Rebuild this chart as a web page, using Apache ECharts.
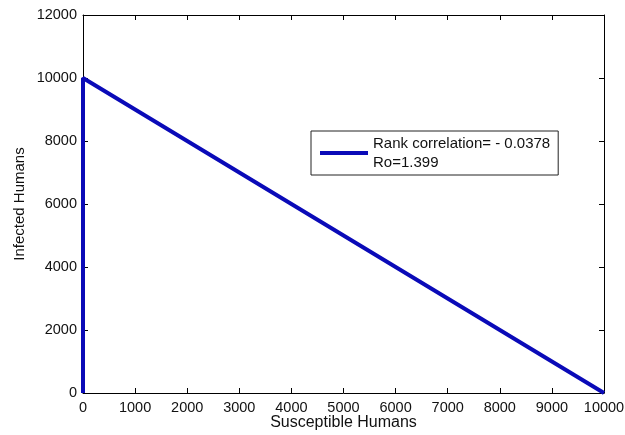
<html>
<head>
    <meta charset="utf-8">
    <title>Infected vs Susceptible Humans</title>
    <script src="https://cdn.jsdelivr.net/npm/echarts@6/dist/echarts.min.js"></script>
</head>
<body style="margin:0;background:#fff">
    <div id="main" style="width:625px;height:435px"></div>
    <script type="text/javascript">
        // S (x) vs I (y) trajectory points
        var susceptible = [0, 0, 10000];
        var infected = [0, 10000, 0];
        var legendText = 'Rank correlation= - 0.0378\nRo=1.399';

        var pts = [];
        for (var i = 0; i < susceptible.length; i++) {
            pts.push([susceptible[i], infected[i]]);
        }

        var font = 'Liberation Sans, Arial, sans-serif';
        var plain = function (v) { return String(v); };  // no thousands separator
        var axisCommon = {
            type: 'value',
            axisLine: {show: true, onZero: false, lineStyle: {color: '#000', width: 1}},
            axisTick: {show: true, inside: true, length: 5, lineStyle: {color: '#000'}},
            splitLine: {show: false}
        };

        var myChart = echarts.init(document.getElementById('main'));
        var option = {
            animation: false,
            backgroundColor: '#fff',
            grid: {left: 83, right: 21, top: 15, bottom: 42, outerBoundsMode: 'none', containLabel: false},
            legend: {
                left: 311, top: 131,
                data: ['ri'],
                formatter: function () { return legendText; },
                icon: 'rect',
                itemWidth: 48, itemHeight: 4,
                padding: [3, 8, 3, 9],
                backgroundColor: '#fff',
                borderColor: '#222', borderWidth: 1, borderRadius: 0,
                textStyle: {fontFamily: font, fontSize: 15, color: '#111', lineHeight: 19}
            },
            xAxis: [
                Object.assign({}, axisCommon, {
                    min: 0, max: 10000, interval: 1000, position: 'bottom',
                    name: 'Susceptible Humans', nameLocation: 'middle', nameGap: 22,
                    nameMoveOverlap: false,
                    nameTextStyle: {fontFamily: font, fontSize: 16, color: '#111'},
                    axisLabel: {fontFamily: font, fontSize: 14.5, color: '#111', margin: 7, formatter: plain}
                }),
                Object.assign({}, axisCommon, {
                    min: 0, max: 10000, interval: 1000, position: 'top',
                    axisLabel: {show: false}
                })
            ],
            yAxis: [
                Object.assign({}, axisCommon, {
                    min: 0, max: 12000, interval: 2000, position: 'left',
                    name: 'Infected Humans', nameLocation: 'middle', nameGap: 56,
                    nameMoveOverlap: false,
                    nameTextStyle: {fontFamily: font, fontSize: 15, color: '#111'},
                    axisLabel: {fontFamily: font, fontSize: 14.5, color: '#111', margin: 6, formatter: plain}
                }),
                Object.assign({}, axisCommon, {
                    min: 0, max: 12000, interval: 2000, position: 'right',
                    axisLabel: {show: false}
                })
            ],
            series: [{
                name: 'ri',
                type: 'line',
                data: pts,
                showSymbol: false,
                lineStyle: {color: '#0a0ab8', width: 4},
                itemStyle: {color: '#0a0ab8'}
            }]
        };
        myChart.setOption(option);
    </script>
</body>
</html>
